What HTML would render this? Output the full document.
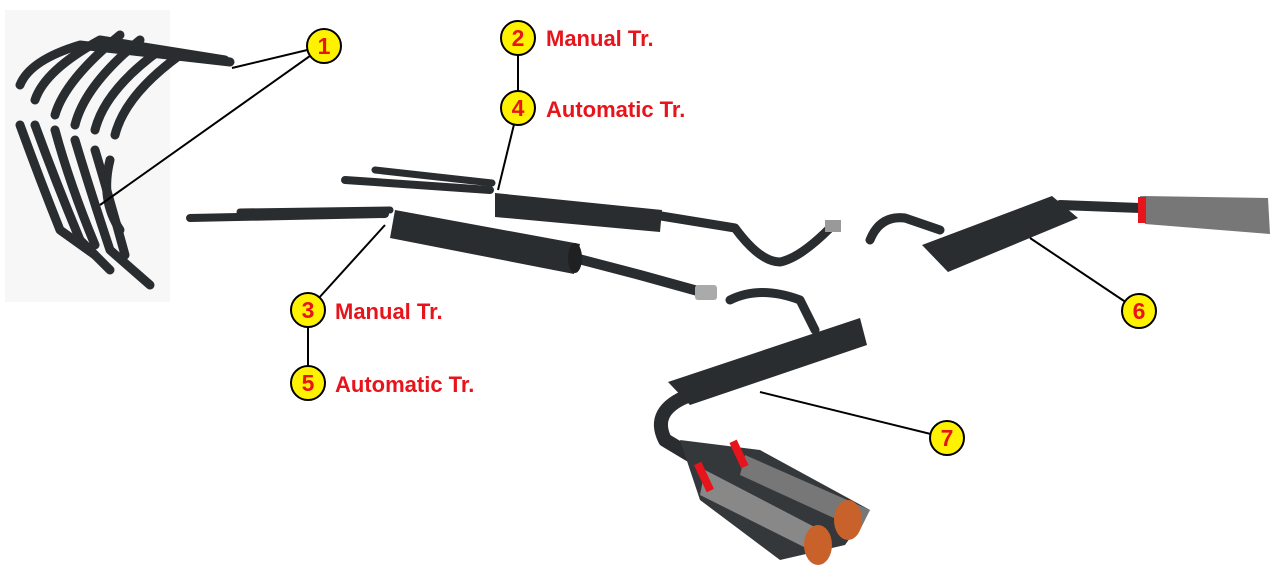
<!DOCTYPE html>
<html><head><meta charset="utf-8"><style>
html,body{margin:0;padding:0;background:#fff;}
svg{display:block}
.t{font-family:"Liberation Sans",Arial,sans-serif;font-weight:bold;font-size:22px;fill:#e8141b}
.n{font-family:"Liberation Sans",Arial,sans-serif;font-weight:bold;font-size:23px;fill:#e8141b;text-anchor:middle}
.p{fill:none;stroke:#2a2d30;stroke-linecap:round;stroke-linejoin:round}
</style></head><body>
<svg width="1280" height="576" viewBox="0 0 1280 576" xmlns="http://www.w3.org/2000/svg">
<rect x="5" y="10" width="165" height="292" fill="#f7f7f7"/>
<g class="p" stroke-width="9">
<path d="M20 85 Q30 60 80 45 L230 62"/>
<path d="M35 100 Q45 70 100 40 L225 60"/>
<path d="M55 115 Q65 80 120 35"/>
<path d="M75 125 Q85 85 140 40"/>
<path d="M95 130 Q105 90 160 50"/>
<path d="M115 135 Q125 95 180 55"/>
<path d="M20 125 Q40 180 60 230 L95 255"/>
<path d="M35 125 Q55 180 80 240 L110 270"/>
<path d="M55 130 Q70 185 95 245"/>
<path d="M75 140 Q90 190 110 250 L150 285"/>
<path d="M95 150 Q110 200 125 255"/>
<path d="M110 160 Q100 200 120 230"/>
</g>
<g class="p">
<path d="M190 218 L385 214" stroke-width="8"/>
<path d="M240 212 L390 210" stroke-width="7"/>
<path d="M575 258 L640 275 L705 293" stroke-width="10"/>
</g>
<polygon points="395,210 580,244 574,274 390,238" fill="#2a2d30"/>
<ellipse cx="575" cy="258" rx="7" ry="15" fill="#1e2022"/>
<rect x="695" y="285" width="22" height="15" fill="#aaa" rx="3"/>
<g class="p">
<path d="M345 180 L490 190" stroke-width="8"/>
<path d="M375 170 L492 183" stroke-width="7"/>
<path d="M655 215 L735 228 Q760 262 780 262 Q800 258 830 228" stroke-width="9"/>
</g>
<polygon points="495,193 662,210 660,232 495,217" fill="#2a2d30"/>
<rect x="825" y="220" width="16" height="12" fill="#999"/>
<g class="p"><path d="M870 240 Q880 215 905 218 L940 230" stroke-width="9"/>
<path d="M1060 205 L1140 208" stroke-width="10"/></g>
<polygon points="922,245 1052,196 1078,218 948,272" fill="#2a2d30"/>
<path d="M1140 196 L1268 198 L1270 234 L1145 224 Z" fill="#777"/>
<rect x="1138" y="197" width="8" height="26" fill="#e8141b"/>
<g class="p"><path d="M730 300 Q760 285 800 300 L815 330" stroke-width="9"/>
<path d="M690 395 Q650 410 665 440 L690 455" stroke-width="14"/></g>
<polygon points="668,382 860,318 867,345 690,405" fill="#2a2d30"/>
<path d="M680 440 L760 450 L870 510 L845 545 L780 560 L700 500 Z" fill="#35383b"/>
<path d="M705 470 L830 535 L820 555 L700 495 Z" fill="#888"/>
<path d="M745 455 L870 510 L860 530 L740 475 Z" fill="#777"/>
<ellipse cx="848" cy="520" rx="14" ry="20" fill="#c8622a"/>
<ellipse cx="818" cy="545" rx="14" ry="20" fill="#c8622a"/>
<rect x="700" y="462" width="8" height="30" fill="#e8141b" transform="rotate(-25 704 477)"/>
<rect x="735" y="440" width="8" height="28" fill="#e8141b" transform="rotate(-25 739 454)"/>
<g stroke="#000" stroke-width="2" fill="none">
<line x1="324" y1="46" x2="232" y2="68"/>
<line x1="324" y1="46" x2="100" y2="205"/>
<line x1="518" y1="38" x2="518" y2="108"/>
<line x1="518" y1="108" x2="498" y2="190"/>
<line x1="308" y1="310" x2="385" y2="225"/>
<line x1="308" y1="310" x2="308" y2="383"/>
<line x1="1139" y1="311" x2="1030" y2="238"/>
<line x1="947" y1="438" x2="760" y2="392"/>
</g>
<g fill="#fff200" stroke="#000" stroke-width="2">
<circle cx="324" cy="46" r="17"/><circle cx="518" cy="38" r="17"/><circle cx="518" cy="108" r="17"/>
<circle cx="308" cy="310" r="17"/><circle cx="308" cy="383" r="17"/><circle cx="1139" cy="311" r="17"/><circle cx="947" cy="438" r="17"/>
</g>
<text class="n" x="324" y="54">1</text><text class="n" x="518" y="46">2</text><text class="n" x="518" y="116">4</text>
<text class="n" x="308" y="318">3</text><text class="n" x="308" y="391">5</text><text class="n" x="1139" y="319">6</text><text class="n" x="947" y="446">7</text>
<text class="t" x="546" y="46">Manual Tr.</text>
<text class="t" x="546" y="117">Automatic Tr.</text>
<text class="t" x="335" y="319">Manual Tr.</text>
<text class="t" x="335" y="392">Automatic Tr.</text>
</svg>
</body></html>
